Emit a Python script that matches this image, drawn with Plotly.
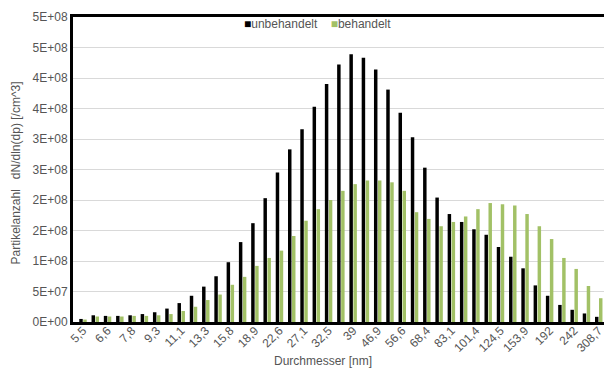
import plotly.graph_objects as go

# Categories (particle diameter, nm); every other one is labelled on the axis
diameters = ["5,5", "6,0", "6,6", "7,2", "7,8", "8,5", "9,3", "10,2", "11,1", "12,2",
             "13,3", "14,5", "15,8", "17,3", "18,9", "20,7", "22,6", "24,7", "27,1", "29,7",
             "32,5", "35,6", "39", "42,8", "46,9", "51,5", "56,6", "62,2", "68,4", "75,4",
             "83,1", "91,8", "101,4", "112,4", "124,5", "138,4", "153,9", "171,9", "192", "215,6",
             "242", "273,3", "308,7", "350"]

tick_labels = ["5,5", "6,6", "7,8", "9,3", "11,1", "13,3", "15,8", "18,9", "22,6", "27,1",
               "32,5", "39", "46,9", "56,6", "68,4", "83,1", "101,4", "124,5", "153,9", "192",
               "242", "308,7"]

unbehandelt = [5e6, 1.1e7, 1.0e7, 1.0e7, 1.1e7, 1.3e7, 1.6e7, 2.2e7, 3.1e7, 4.3e7,
               5.8e7, 7.5e7, 9.8e7, 1.31e8, 1.62e8, 2.03e8, 2.45e8, 2.83e8, 3.16e8, 3.53e8,
               3.90e8, 4.22e8, 4.39e8, 4.33e8, 4.14e8, 3.81e8, 3.43e8, 3.03e8, 2.53e8, 2.04e8,
               1.77e8, 1.64e8, 1.52e8, 1.43e8, 1.23e8, 1.07e8, 8.8e7, 6.0e7, 4.3e7, 2.8e7,
               2.0e7, 1.4e7, 8.5e6, 4e6]

behandelt = [4e6, 9e6, 9e6, 9e6, 1.0e7, 1.0e7, 1.1e7, 1.3e7, 1.8e7, 2.5e7,
             3.6e7, 4.5e7, 6.1e7, 7.4e7, 9.2e7, 1.05e8, 1.17e8, 1.41e8, 1.66e8, 1.85e8,
             2.0e8, 2.15e8, 2.26e8, 2.32e8, 2.32e8, 2.29e8, 2.15e8, 1.80e8, 1.69e8, 1.57e8,
             1.64e8, 1.73e8, 1.85e8, 1.95e8, 1.93e8, 1.91e8, 1.77e8, 1.57e8, 1.36e8, 1.05e8,
             8.7e7, 5.9e7, 3.9e7, 2.5e7]

y_tickvals = [0, 5e7, 1e8, 1.5e8, 2e8, 2.5e8, 3e8, 3.5e8, 4e8, 4.5e8, 5e8]
y_ticktext = ["0E+00", "5E+07", "1E+08", "2E+08", "2E+08", "3E+08", "3E+08",
              "4E+08", "4E+08", "5E+08", "5E+08"]

BLACK = "#000000"
GREEN = "#a2c166"
TXT = "#555555"
FONT = "Liberation Sans, Arial, sans-serif"

fig = go.Figure()
fig.add_trace(go.Bar(x=diameters, y=unbehandelt, name="unbehandelt",
                     marker=dict(color=BLACK, line=dict(width=0))))
fig.add_trace(go.Bar(x=diameters, y=behandelt, name="behandelt",
                     marker=dict(color=GREEN, line=dict(width=0))))

# The page body has an 8 px margin, so the figure is 604x362 and offset accordingly
fig.update_layout(
    width=604, height=362,
    margin=dict(l=65, r=0, t=9, b=48, autoexpand=False),
    paper_bgcolor="white", plot_bgcolor="white",
    barmode="group", bargap=0.35, bargroupgap=0.13,
    showlegend=False,
    font=dict(family=FONT, color=TXT, size=12),
)

fig.update_xaxes(
    type="category",
    range=[-0.814, 43.08],
    tickmode="array", tickvals=tick_labels, ticktext=tick_labels,
    tickangle=-45, tickfont=dict(size=12, color=TXT, family=FONT),
    ticks="", showgrid=False, ticklabelstandoff=-6,
    showline=True, linecolor="black", linewidth=3, mirror=True,
    automargin=False,
)
fig.update_yaxes(
    range=[0, 5e8],
    tickmode="array", tickvals=y_tickvals, ticktext=y_ticktext,
    tickfont=dict(size=12, color=TXT, family=FONT),
    ticks="", showgrid=True, gridcolor="#d9d9d9", gridwidth=1,
    showline=True, linecolor="black", linewidth=3,
    zeroline=False, automargin=False,
)

# Axis titles
fig.add_annotation(text="Partikelanzahl   dN/dln(dp) [/cm^3]", textangle=-90,
                   xref="paper", yref="paper", x=-0.1058, y=0.49,
                   xanchor="center", yanchor="middle", showarrow=False,
                   font=dict(size=12, color=TXT, family=FONT))
fig.add_annotation(text="Durchmesser [nm]",
                   xref="paper", yref="paper", x=0.464, y=-0.128,
                   xanchor="center", yanchor="middle", showarrow=False,
                   font=dict(size=12, color=TXT, family=FONT))

# Legend (top, inside plot area)
fig.add_annotation(
    text=(f'<span style="color:{BLACK}">■</span>unbehandelt'
          f'    <span style="color:{GREEN}">■</span>behandelt'),
    xref="paper", yref="paper", x=0.4545, y=0.977,
    xanchor="center", yanchor="middle", showarrow=False,
    font=dict(size=12, color=TXT, family=FONT),
)

fig.write_html("out.html")
